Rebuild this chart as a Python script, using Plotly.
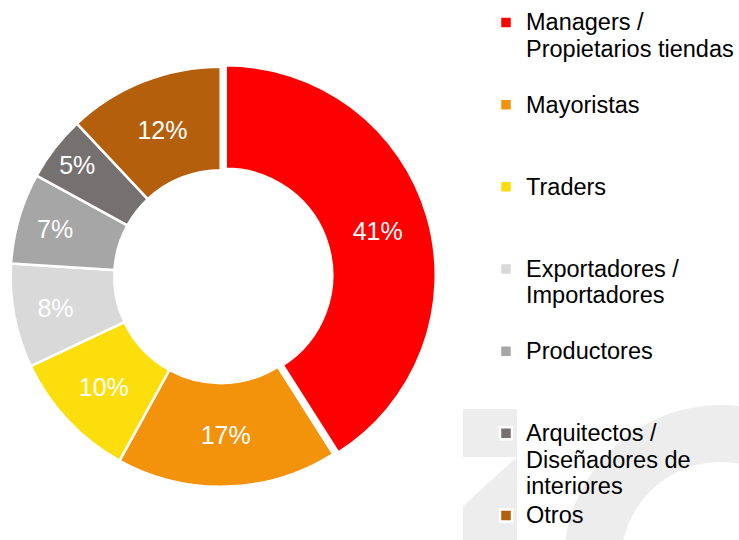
import numpy as np
import plotly.graph_objects as go

W, H = 739, 540

# Respondent profile shares (%)
categories = [
    "Managers /\nPropietarios tiendas",
    "Mayoristas",
    "Traders",
    "Exportadores /\nImportadores",
    "Productores",
    "Arquitectos /\nDiseñadores de\ninteriores",
    "Otros",
]
shares = [41, 17, 10, 8, 7, 5, 12]
colors = ["#FF0000", "#F3920B", "#FCDE0D", "#D9D9D9", "#A6A6A6", "#767171", "#B45F0C"]
pulls = [0.025, 0, 0, 0, 0, 0, 0]

FONT = "Liberation Sans, Arial, sans-serif"
LEG_LINE = 20.3      # sets legend line pitch
LEG_GLYPH = 23.5     # size of the legend glyphs
SLOTS = 3            # every entry occupies three lines of the legend


def legend_label(text, last):
    lines = text.split("\n")
    styled = [f"<span style='font-size:{LEG_GLYPH}px'>{ln}</span>" for ln in lines]
    if not last:
        styled += [" "] * (SLOTS - len(lines))
    return "<br>".join(styled)


labels = [legend_label(c, i == len(categories) - 1) for i, c in enumerate(categories)]


def px(x):
    return x / W


def py(y):
    return 1 - y / H


fig = go.Figure(
    go.Pie(
        labels=labels,
        values=shares,
        sort=False,
        direction="clockwise",
        rotation=0,
        hole=0.507,
        pull=pulls,
        marker=dict(colors=colors, line=dict(color="white", width=2.5)),
        texttemplate="%{percent:.0%}",
        textposition="inside",
        insidetextorientation="horizontal",
        textfont=dict(family=FONT, size=25, color="white"),
        domain=dict(x=[px(5.45), px(435.95)], y=[py(491.95), py(61.45)]),
        hoverinfo="skip",
    )
)

# Light background logo in the lower right corner
wm = "#EDEDED"
shapes = [
    dict(type="rect", xref="paper", yref="paper", layer="below",
         x0=px(463), x1=px(517), y0=py(457), y1=py(409),
         fillcolor=wm, line=dict(width=0)),
    dict(type="path", xref="paper", yref="paper", layer="below",
         path=f"M{px(517)},{py(457)} L{px(517)},{py(545)} L{px(463)},{py(545)} L{px(463)},{py(506)} Z",
         fillcolor=wm, line=dict(width=0)),
]
cx, cy, r_out, r_in = 721, 562, 157, 100
t = np.linspace(0, 2 * np.pi, 181)
outer = [(cx + r_out * np.cos(a), cy + r_out * np.sin(a)) for a in t]
inner = [(cx + r_in * np.cos(a), cy + r_in * np.sin(a)) for a in t[::-1]]
ring = "M" + " L".join(f"{px(x):.5f},{py(y):.5f}" for x, y in outer) + " Z "
ring += "M" + " L".join(f"{px(x):.5f},{py(y):.5f}" for x, y in inner) + " Z"
shapes.append(dict(type="path", xref="paper", yref="paper", layer="below",
                   path=ring, fillcolor=wm, line=dict(width=0)))

fig.update_layout(
    width=W,
    height=H,
    margin=dict(l=0, r=0, t=0, b=0, autoexpand=False),
    paper_bgcolor="white",
    plot_bgcolor="white",
    shapes=shapes,
    showlegend=True,
    legend=dict(
        x=px(486), xanchor="left",
        y=py(2.8), yanchor="top",
        font=dict(family=FONT, size=LEG_LINE, color="#000000"),
        bgcolor="rgba(0,0,0,0)",
        valign="top",
        itemwidth=30,
        traceorder="normal",
    ),
)

fig.write_html("out.html")
